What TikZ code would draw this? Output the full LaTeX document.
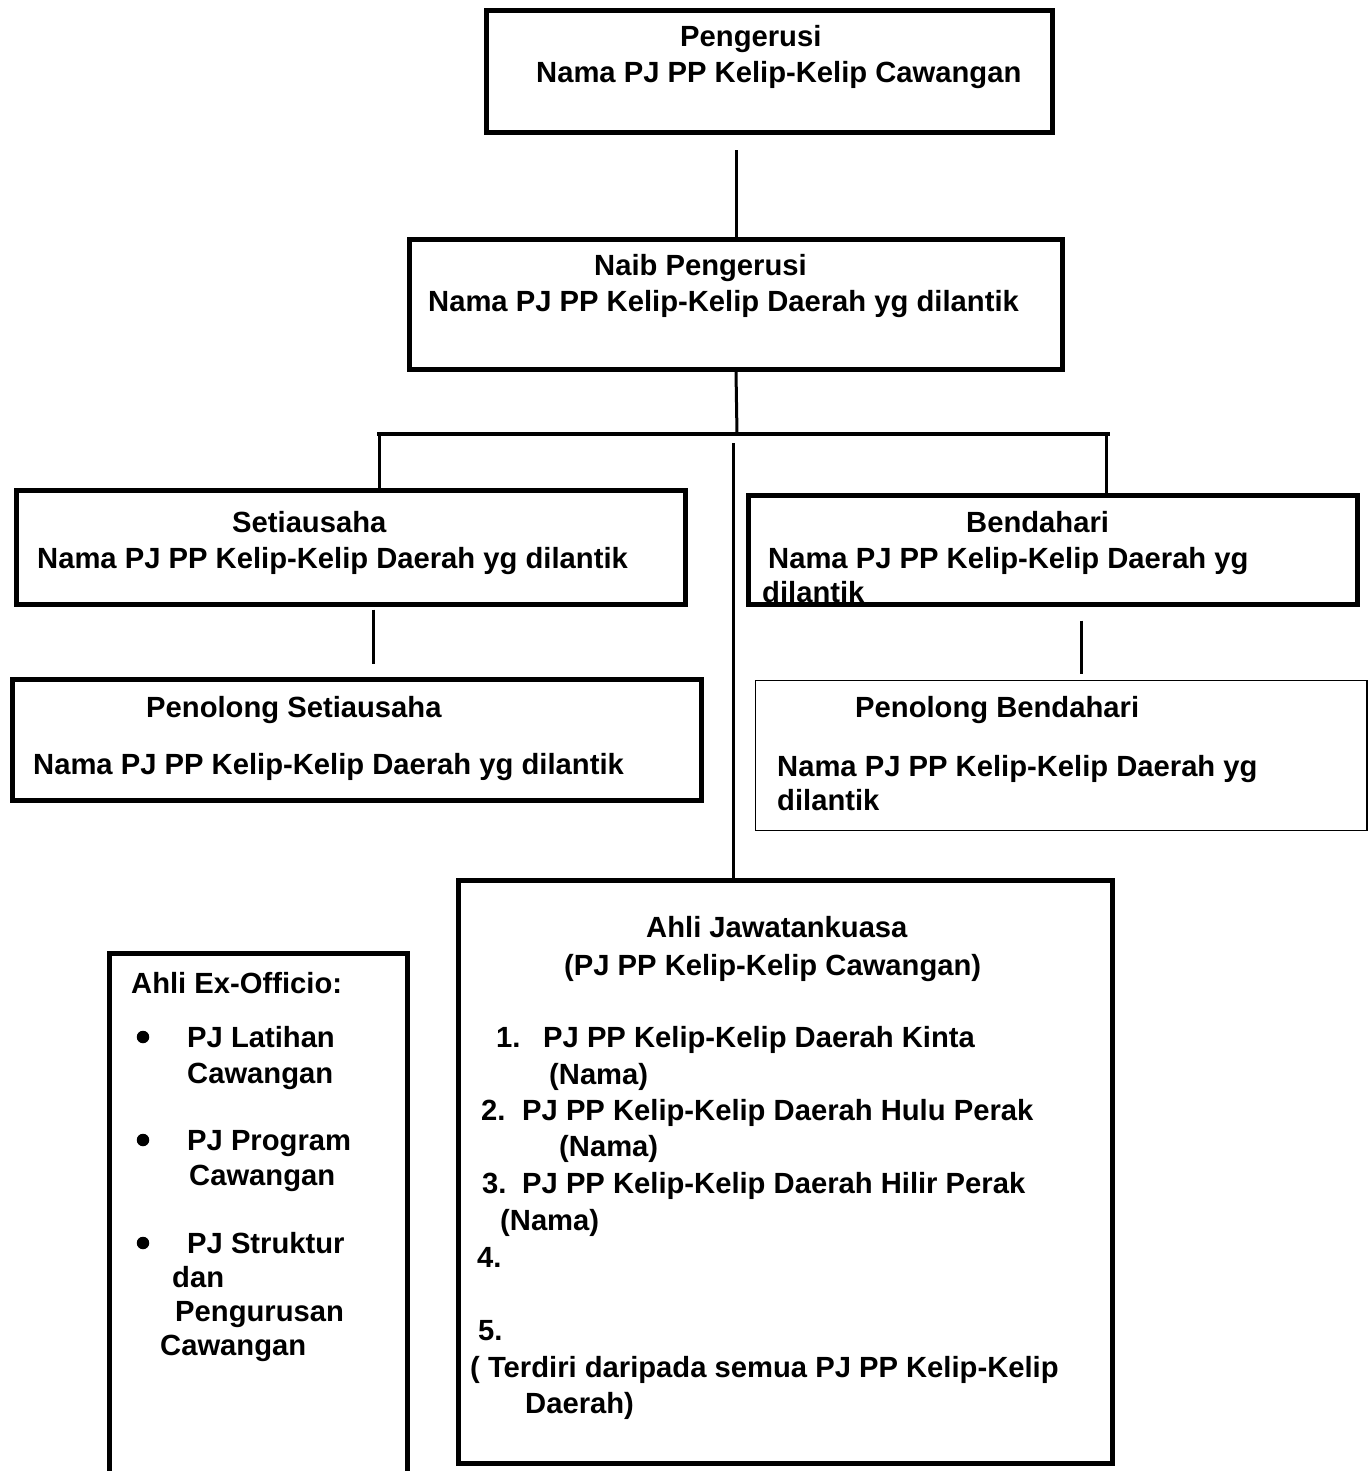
\documentclass[tikz,border=0pt]{standalone}
\usepackage{fontspec}
\setmainfont{Liberation Sans}
\usetikzlibrary{positioning,calc}

\begin{document}
\begin{tikzpicture}[x=1pt,y=-1pt,
      postbox/.style={rectangle,draw=black,line width=5pt,inner sep=0pt},
      thinbox/.style={rectangle,draw=black,line width=1.5pt,inner sep=0pt},
      txt/.style={anchor=base west,inner sep=0pt,
                  font=\bfseries\fontsize{29.2}{36}\selectfont},
      dot/.style={circle,fill=black,inner sep=0pt,minimum size=12.5pt},
      link/.style={draw=black,line width=3pt},
      bar/.style={draw=black,line width=4.5pt}
    ]
    \clip (0,0) rectangle (1369,1471);

    % Boxes
    \node[postbox,minimum width=566,minimum height=122] (P) at (769.5,71.5) {};
    \node[postbox,minimum width=653,minimum height=130] (N) at (736,304.5) {};
    \node[postbox,minimum width=669,minimum height=114] (S) at (351,547.5) {};
    \node[postbox,minimum width=609,minimum height=109] (B) at (1053,550) {};
    \node[postbox,minimum width=689,minimum height=121] (PS) at (357,740) {};
    \node[thinbox,minimum width=611.5,minimum height=150] (PB) at (1061.25,755.5) {};
    \node[postbox,minimum width=654,minimum height=583] (AJK) at (785.5,1172) {};
    \node[postbox,minimum width=298,minimum height=647] (EO) at (258.5,1277) {};

    % Pengerusi
    \node[txt] (tP1) at (680,47) {Pengerusi};
    \node[txt] (tP2) at (536,83) {Nama PJ PP Kelip-Kelip Cawangan};
    % Naib Pengerusi
    \node[txt] (tN1) at (594,275) {Naib Pengerusi};
    \node[txt] (tN2) at (428,311) {Nama PJ PP Kelip-Kelip Daerah yg dilantik};
    % Setiausaha
    \node[txt] (tS1) at (232,532) {Setiausaha};
    \node[txt] (tS2) at (37,568) {Nama PJ PP Kelip-Kelip Daerah yg dilantik};
    % Bendahari
    \node[txt] (tB1) at (966,532) {Bendahari};
    \node[txt] (tB2) at (768,568) {Nama PJ PP Kelip-Kelip Daerah yg};
    \node[txt] (tB3) at (762,602) {dilantik};
    % Penolong Setiausaha
    \node[txt] (tPS1) at (146,717) {Penolong Setiausaha};
    \node[txt] (tPS2) at (33,774) {Nama PJ PP Kelip-Kelip Daerah yg dilantik};
    % Penolong Bendahari
    \node[txt] (tPB1) at (855,717) {Penolong Bendahari};
    \node[txt] (tPB2) at (777,776) {Nama PJ PP Kelip-Kelip Daerah yg};
    \node[txt] (tPB3) at (777,810) {dilantik};

    % Ahli Jawatankuasa
    \node[txt] (tA1) at (646,937) {Ahli Jawatankuasa};
    \node[txt] (tA2) at (564,975) {(PJ PP Kelip-Kelip Cawangan)};
    \node[txt] (n1) at (496,1047) {1.};
    \node[txt] (i1) at (543,1047) {PJ PP Kelip-Kelip Daerah Kinta};
    \node[txt] (m1) at (549,1084) {(Nama)};
    \node[txt] (n2) at (481,1120) {2.};
    \node[txt] (i2) at (522,1120) {PJ PP Kelip-Kelip Daerah Hulu Perak};
    \node[txt] (m2) at (559,1156) {(Nama)};
    \node[txt] (n3) at (482,1193) {3.};
    \node[txt] (i3) at (522,1193) {PJ PP Kelip-Kelip Daerah Hilir Perak};
    \node[txt] (m3) at (500,1230) {(Nama)};
    \node[txt] (n4) at (477,1267) {4.};
    \node[txt] (n5) at (478,1340) {5.};
    \node[txt] (tA3) at (470,1377) {( Terdiri daripada semua PJ PP Kelip-Kelip};
    \node[txt] (tA4) at (525,1413) {Daerah)};

    % Ahli Ex-Officio
    \node[txt] (tE0) at (131,993) {Ahli Ex-Officio:};
    \node[dot] (b1) at (143,1037) {};
    \node[txt] (tE1) at (187,1047) {PJ Latihan};
    \node[txt] (tE2) at (187,1083) {Cawangan};
    \node[dot] (b2) at (143,1140) {};
    \node[txt] (tE3) at (187,1150) {PJ Program};
    \node[txt] (tE4) at (189,1185) {Cawangan};
    \node[dot] (b3) at (143,1243) {};
    \node[txt] (tE5) at (187,1253) {PJ Struktur};
    \node[txt] (tE6) at (172,1287) {dan};
    \node[txt] (tE7) at (175,1321) {Pengurusan};
    \node[txt] (tE8) at (160,1355) {Cawangan};

    % Connectors
    \coordinate (hub) at (737,434);
    \coordinate (barL) at (377,434);
    \coordinate (barR) at (1110,434);
    \coordinate (dropS) at (379,434);
    \coordinate (dropB) at (1106,434);
    \coordinate (spine) at (733,443);
    \coordinate (psx) at (373,0);
    \coordinate (pbx) at (1081,0);

    \draw[link,shorten <=15.5pt] (N.north |- P.south) -- (N.north);
    \draw[link] (N.south) -- (hub);
    \draw[bar] (barL) -- (barR);
    \draw[link] (dropS) -- (dropS |- S.north);
    \draw[link] (dropB) -- (dropB |- B.north);
    \draw[link,shorten >=-3.5pt] (spine) -- (spine |- AJK.north);
    \draw[link,shorten <=2.5pt,shorten >=13.5pt] (S.south -| psx) -- (PS.north -| psx);
    \draw[link,shorten <=13.5pt,shorten >=5.5pt] (B.south -| pbx) -- (PB.north -| pbx);

  \end{tikzpicture}
\end{document}
